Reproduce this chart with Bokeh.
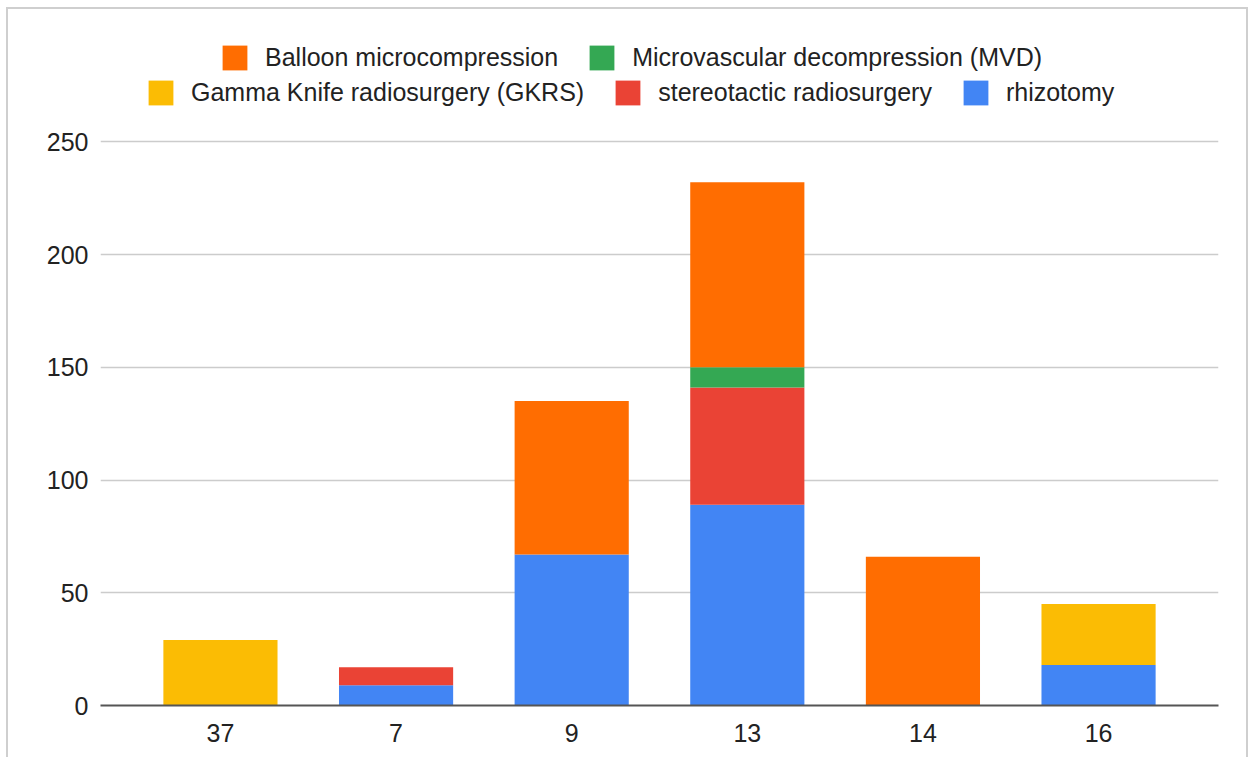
from bokeh.plotting import figure
from bokeh.models import (FactorRange, Range1d, FixedTicker, Legend, LegendItem)
from bokeh.embed import file_html
from bokeh.resources import INLINE

# ---- data ----
categories = ["37", "7", "9", "13", "14", "16"]
rhizotomy = [0, 9, 67, 89, 0, 18]
stereotactic = [0, 8, 0, 52, 0, 0]
gkrs = [29, 0, 0, 0, 0, 27]
mvd = [0, 0, 0, 9, 0, 0]
balloon = [0, 0, 68, 82, 66, 0]
y_ticks = [0, 50, 100, 150, 200, 250]

series_names = ["rhizotomy", "stereotactic radiosurgery", "Gamma Knife radiosurgery (GKRS)",
                "Microvascular decompression (MVD)", "Balloon microcompression"]
series_keys = ["rhizotomy", "stereotactic", "gkrs", "mvd", "balloon"]
colors = ["#4285f4", "#ea4335", "#fbbc04", "#34a853", "#ff6d01"]

source = dict(cat=categories, rhizotomy=rhizotomy, stereotactic=stereotactic,
              gkrs=gkrs, mvd=mvd, balloon=balloon)

FONT = "Liberation Sans"

# y range extends above the top tick to leave room for the legend inside the frame
p = figure(width=1242, height=750, output_backend="svg", toolbar_location=None,
           x_range=FactorRange(factors=categories, range_padding=0.061,
                               range_padding_units="percent"),
           y_range=Range1d(0, 306))
p.min_border_left = 92
p.min_border_right = 32
p.min_border_top = 6
p.min_border_bottom = 54
p.outline_line_color = None
p.background_fill_color = "white"
p.border_fill_color = "white"
p.styles = {"border-left": "2px solid #cfcfcf", "border-top": "2px solid #cfcfcf",
            "border-right": "2px solid #cfcfcf", "margin-left": "6px", "margin-top": "7px"}

rends = p.vbar_stack(series_keys, x="cat", width=0.65, color=colors, source=source,
                     line_color=None)

# axes
p.yaxis.ticker = FixedTicker(ticks=y_ticks)
p.yaxis.axis_line_color = None
p.yaxis.major_tick_line_color = None
p.yaxis.minor_tick_line_color = None
p.yaxis.major_label_text_font = FONT
p.yaxis.major_label_text_font_size = "25px"
p.yaxis.major_label_text_color = "#222222"
p.yaxis.major_label_standoff = 6

p.xaxis.axis_line_color = "#555555"
p.xaxis.axis_line_width = 2
p.xaxis.major_tick_line_color = None
p.xaxis.minor_tick_line_color = None
p.xaxis.major_label_text_font = FONT
p.xaxis.major_label_text_font_size = "25px"
p.xaxis.major_label_text_color = "#222222"
p.xaxis.major_label_standoff = 12

p.xgrid.grid_line_color = None
p.ygrid.ticker = FixedTicker(ticks=y_ticks)
p.ygrid.grid_line_color = "#cccccc"
p.ygrid.grid_line_width = 1.5

# legends (two rows)
by_key = dict(zip(series_keys, rends))
name_of = dict(zip(series_keys, series_names))
row1 = ["balloon", "mvd"]
row2 = ["gkrs", "stereotactic", "rhizotomy"]


def make_legend(keys, loc):
    lg = Legend(items=[LegendItem(label=name_of[k], renderers=[by_key[k]]) for k in keys],
                location=loc, orientation="horizontal")
    lg.label_text_font = FONT
    lg.label_text_font_size = "25px"
    lg.label_text_color = "#222222"
    lg.glyph_width = 31
    lg.glyph_height = 31
    lg.label_standoff = 15
    lg.spacing = 28
    lg.padding = 0
    lg.margin = 0
    lg.border_line_color = None
    lg.background_fill_alpha = 0
    lg.label_height = 31
    return lg


p.add_layout(make_legend(row1, (119, 632)), "center")
p.add_layout(make_legend(row2, (45, 597)), "center")

open("out.html", "w").write(file_html(p, INLINE))
